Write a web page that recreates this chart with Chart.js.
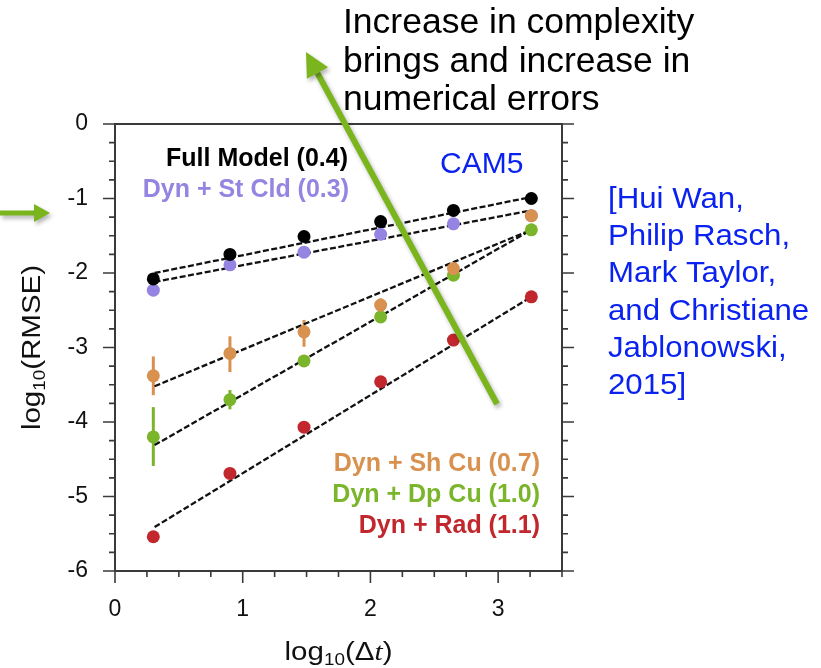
<!DOCTYPE html>
<html>
<head>
<meta charset="utf-8">
<script src="https://cdn.jsdelivr.net/npm/chart.js@4.4.1/dist/chart.umd.min.js"></script>
<style>
  html, body { margin: 0; padding: 0; background: #fff; }
  canvas { display: block; }
</style>
</head>
<body>
<canvas id="myChart" width="821" height="668"></canvas>
<script>
// log10 of the time step for the six runs
var logDt = [0.30, 0.90, 1.48, 2.08, 2.65, 3.26];

// log10(RMSE) per configuration
var fullModel = [-2.08, -1.75, -1.51, -1.31, -1.16, -1.00];
var stCld = [-2.23, -1.89, -1.72, -1.48, -1.34, -1.23];
var shCu = [-3.38, -3.08, -2.79, -2.43, -1.94, -1.23];
var dpCu = [-4.20, -3.70, -3.18, -2.59, -2.03, -1.42];
var rad = [-5.54, -4.69, -4.07, -3.46, -2.90, -2.32];

// spread of the ensemble (only where it shows)
var shCuLow = [-3.64, -3.33, -2.99, -2.54, null, null];
var shCuHigh = [-3.12, -2.85, -2.63, -2.34, null, null];
var dpCuLow = [-4.59, -3.83, null, null, null, null];
var dpCuHigh = [-3.80, -3.57, null, null, null, null];

// fitted lines, value at the first and last time step
var fitX = [0.31, 3.26];
var fullFit = [-2.00, -0.98];
var stCldFit = [-2.12, -1.16];
var shCuFit = [-3.52, -1.42];
var dpCuFit = [-4.31, -1.42];
var radFit = [-5.41, -2.32];

var xTicks = [0, 1, 2, 3];
var yTicks = [0, -1, -2, -3, -4, -5, -6];

var seriesNames = ['Full Model (0.4)', 'Dyn + St Cld (0.3)', 'Dyn + Sh Cu (0.7)', 'Dyn + Dp Cu (1.0)', 'Dyn + Rad (1.1)'];

var colors = {
    full: '#000000',
    stCld: '#9584e2',
    shCu: '#d8914f',
    dpCu: '#7bb52c',
    rad: '#c1272d'
};
var arrowGreen = '#7ab51d';
var citeBlue = '#0a22f0';
var FONT = '"Liberation Sans", Arial, sans-serif';

function pts(ys) {
    return logDt.map(function (x, i) { return { x: x, y: ys[i] }; });
}
function fit(ys) {
    return fitX.map(function (x, i) { return { x: x, y: ys[i] }; });
}
function pointSet(label, ys, color) {
    return {
        label: label,
        data: pts(ys),
        backgroundColor: color,
        borderColor: color,
        pointRadius: 6.5,
        pointBorderWidth: 0,
        showLine: false
    };
}
function fitSet(ys) {
    return {
        label: 'fit',
        data: fit(ys),
        showLine: true,
        borderColor: '#111',
        borderWidth: 2.3,
        borderDash: [6, 2.5],
        pointRadius: 0,
        fill: false
    };
}

// text squeezed/stretched along x
function stretchText(ctx, text, x, y, sx) {
    ctx.save();
    ctx.translate(x, y);
    ctx.scale(sx, 1);
    ctx.fillText(text, 0, 0);
    ctx.restore();
}

// draws a run of text pieces centred on 0, baseline 0
function drawParts(ctx, parts) {
    var total = 0;
    parts.forEach(function (p) {
        ctx.font = p.font;
        p.w = ctx.measureText(p.t).width;
        total += p.w;
    });
    var x = -total / 2;
    ctx.textAlign = 'left';
    ctx.textBaseline = 'alphabetic';
    parts.forEach(function (p) {
        ctx.font = p.font;
        ctx.fillText(p.t, x, p.dy || 0);
        x += p.w;
    });
}

function arrow(ctx, x0, y0, x1, y1, width, headLen, headHalf) {
    var ang = Math.atan2(y1 - y0, x1 - x0);
    var bx = x1 - headLen * Math.cos(ang);
    var by = y1 - headLen * Math.sin(ang);
    ctx.beginPath();
    ctx.moveTo(x0, y0);
    ctx.lineTo(bx, by);
    ctx.lineWidth = width;
    ctx.stroke();
    ctx.beginPath();
    ctx.moveTo(x1, y1);
    ctx.lineTo(bx + headHalf * Math.sin(ang), by - headHalf * Math.cos(ang));
    ctx.lineTo(bx - headHalf * Math.sin(ang), by + headHalf * Math.cos(ang));
    ctx.closePath();
    ctx.fill();
}

var errorBars = {
    id: 'errorBars',
    beforeDatasetsDraw: function (chart) {
        var ctx = chart.ctx, xs = chart.scales.x, ys = chart.scales.y;
        ctx.save();
        ctx.lineWidth = 3;
        [[shCuLow, shCuHigh, colors.shCu], [dpCuLow, dpCuHigh, colors.dpCu]].forEach(function (s) {
            ctx.strokeStyle = s[2];
            logDt.forEach(function (x, i) {
                if (s[0][i] === null) return;
                var px = xs.getPixelForValue(x);
                ctx.beginPath();
                ctx.moveTo(px, ys.getPixelForValue(s[0][i]));
                ctx.lineTo(px, ys.getPixelForValue(s[1][i]));
                ctx.stroke();
            });
        });
        ctx.restore();
    }
};

// box round the plot with outward minor/major ticks
var frame = {
    id: 'frame',
    afterDatasetsDraw: function (chart) {
        var ctx = chart.ctx, a = chart.chartArea, xs = chart.scales.x, ys = chart.scales.y;
        ctx.save();
        ctx.strokeStyle = '#3a3a3a';
        ctx.lineWidth = 2;
        ctx.strokeRect(a.left, a.top, a.right - a.left, a.bottom - a.top);
        ctx.lineWidth = 1.6;
        var v, len, p;
        for (v = ys.min; v <= ys.max + 1e-9; v += 0.25) {
            len = Math.abs(v - Math.round(v)) < 1e-6 ? 12 : 6;
            p = ys.getPixelForValue(v);
            ctx.beginPath();
            ctx.moveTo(a.left - len, p); ctx.lineTo(a.left, p);
            ctx.moveTo(a.right, p); ctx.lineTo(a.right + len, p);
            ctx.stroke();
        }
        for (v = xs.min; v <= xs.max + 1e-9; v += 0.25) {
            len = Math.abs(v - Math.round(v)) < 1e-6 ? 12 : 6;
            p = xs.getPixelForValue(v);
            ctx.beginPath();
            ctx.moveTo(p, a.bottom); ctx.lineTo(p, a.bottom + len);
            ctx.stroke();
        }
        ctx.restore();
    }
};

var notes = {
    id: 'notes',
    afterDraw: function (chart) {
        var ctx = chart.ctx, a = chart.chartArea;
        ctx.save();

        // series names inside the plot
        ctx.font = 'bold 25px ' + FONT;
        ctx.textAlign = 'right';
        ctx.textBaseline = 'alphabetic';
        ctx.fillStyle = colors.full;  ctx.fillText(seriesNames[0], 348, 166);
        ctx.fillStyle = colors.stCld; ctx.fillText(seriesNames[1], 349, 197);
        ctx.fillStyle = colors.shCu;  ctx.fillText(seriesNames[2], 540, 471);
        ctx.fillStyle = colors.dpCu;  ctx.fillText(seriesNames[3], 540, 502);
        ctx.fillStyle = colors.rad;   ctx.fillText(seriesNames[4], 540, 533);

        ctx.textAlign = 'left';
        ctx.fillStyle = citeBlue;
        ctx.font = '30px ' + FONT;
        ctx.fillText('CAM5', 440, 173);

        var cite = ['[Hui Wan,', 'Philip Rasch,', 'Mark Taylor,', 'and Christiane', 'Jablonowski,', '2015]'];
        ctx.font = '30px ' + FONT;
        cite.forEach(function (t, i) { stretchText(ctx, t, 608, 208 + i * 37.2, 1.04); });

        ctx.fillStyle = '#000';
        ctx.font = '35.5px ' + FONT;
        ['Increase in complexity', 'brings and increase in', 'numerical errors'].forEach(function (t, i) {
            ctx.fillText(t, 343, 33 + i * 38.5);
        });

        // axis titles
        ctx.fillStyle = '#111';
        ctx.save();
        ctx.translate((a.left + a.right) / 2 - 0, 660);
        ctx.scale(1.18, 1);
        drawParts(ctx, [
            { t: 'log', font: '25px ' + FONT },
            { t: '10', font: '16px ' + FONT, dy: 5 },
            { t: '(\u0394', font: '25px ' + FONT },
            { t: 't', font: 'italic 25px "Liberation Serif", serif' },
            { t: ')', font: '25px ' + FONT }
        ]);
        ctx.restore();

        ctx.save();
        ctx.translate(40, (a.top + a.bottom) / 2);
        ctx.rotate(-Math.PI / 2);
        ctx.scale(1.18, 1);
        drawParts(ctx, [
            { t: 'log', font: '25px ' + FONT },
            { t: '10', font: '16px ' + FONT, dy: 5 },
            { t: '(RMSE)', font: '25px ' + FONT }
        ]);
        ctx.restore();

        // green arrows
        ctx.shadowColor = 'rgba(0,0,0,0.3)';
        ctx.shadowBlur = 4;
        ctx.shadowOffsetX = 2;
        ctx.shadowOffsetY = 3;
        ctx.strokeStyle = arrowGreen;
        ctx.fillStyle = arrowGreen;
        ctx.lineCap = 'butt';
        arrow(ctx, 497, 404, 306, 52, 6, 24, 12);
        arrow(ctx, 0, 213, 50, 213, 5, 16, 9);
        ctx.restore();
    }
};

var ctx = document.getElementById('myChart').getContext('2d');
var currentChart = new Chart(ctx, {
    type: 'scatter',
    data: {
        datasets: [
            pointSet(seriesNames[0], fullModel, colors.full),
            pointSet(seriesNames[2], shCu, colors.shCu),
            pointSet(seriesNames[3], dpCu, colors.dpCu),
            pointSet(seriesNames[4], rad, colors.rad),
            pointSet(seriesNames[1], stCld, colors.stCld),
            fitSet(fullFit),
            fitSet(stCldFit),
            fitSet(shCuFit),
            fitSet(dpCuFit),
            fitSet(radFit)
        ]
    },
    options: {
        responsive: false,
        animation: false,
        layout: { padding: { top: 124, right: 259, left: 0, bottom: 0 } },
        plugins: {
            legend: { display: false },
            tooltip: { enabled: false }
        },
        scales: {
            x: {
                type: 'linear',
                min: 0,
                max: 3.5,
                afterFit: function (scale) { scale.height = 97; },
                afterBuildTicks: function (scale) {
                    scale.ticks = xTicks.map(function (v) { return { value: v }; });
                },
                grid: { display: false, drawTicks: false },
                border: { display: false },
                ticks: {
                    padding: 25,
                    color: '#111',
                    font: { family: FONT, size: 23 },
                    callback: function (v) { return String(v); }
                }
            },
            y: {
                type: 'linear',
                min: -6,
                max: 0,
                afterFit: function (scale) { scale.width = 115; },
                afterBuildTicks: function (scale) {
                    scale.ticks = yTicks.map(function (v) { return { value: v }; });
                },
                grid: { display: false, drawTicks: false },
                border: { display: false },
                ticks: {
                    padding: 27,
                    color: '#111',
                    font: { family: FONT, size: 23 },
                    callback: function (v) { return String(v); }
                }
            }
        }
    },
    plugins: [errorBars, frame, notes]
});
</script>
</body>
</html>
